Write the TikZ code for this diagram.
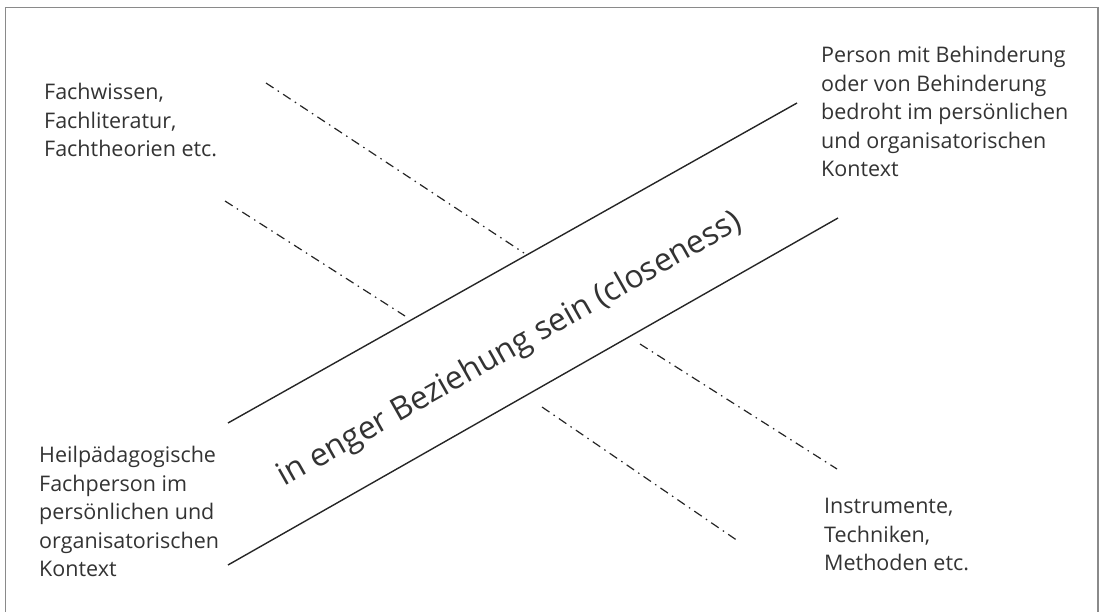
\documentclass[tikz,border=0pt]{standalone}
\usepackage{fontspec}
\setmainfont{Open Sans}
\definecolor{txt}{HTML}{333333}
\definecolor{frame}{HTML}{8A8A8A}
\begin{document}
\begin{tikzpicture}[x=1pt,y=-1pt,
  lbl/.style={anchor=north west,align=left,inner sep=0pt,text=txt,font=\fontsize{21.5}{28.5}\selectfont},
  solidline/.style={line width=1.4pt,black!85},
  dashdot/.style={line width=1.2pt,black!85,dash pattern=on 9pt off 5pt on 1.5pt off 5pt}]
\useasboundingbox (0,0) rectangle (1105,612);
\draw[frame,line width=1.5pt] (5.5,7.5) rectangle (1098,613);
% solid band lines
\coordinate (l1a) at (228,423);
\coordinate (l1b) at (797,103);
\coordinate (l2a) at (228,565);
\coordinate (l2b) at (838,218);
\draw[solidline] (l1a) -- (l1b);
\draw[solidline] (l2a) -- (l2b);
% dash-dot lines
\coordinate (aa) at (266,83);
\coordinate (ab) at (524,253);
\coordinate (ba) at (225,201);
\coordinate (bb) at (405,316);
\coordinate (ca) at (640,344);
\coordinate (cb) at (837,469);
\coordinate (da) at (542,407);
\coordinate (db) at (738,541);
\draw[dashdot] (aa) -- (ab);
\draw[dashdot] (ba) -- (bb);
\draw[dashdot] (ca) -- (cb);
\draw[dashdot] (da) -- (db);
% labels
\node[lbl] (fw) at (44,83) {Fachwissen,\\Fachliteratur,\\Fachtheorien etc.};
\node[lbl] (pb) at (821,46) {Person mit Behinderung\\oder von Behinderung\\bedroht im persönlichen\\und organisatorischen\\Kontext};
\node[lbl] (hp) at (39,446) {Heilpädagogische\\Fachperson im\\persönlichen und\\organisatorischen\\Kontext};
\node[lbl] (im) at (824,498) {Instrumente,\\Techniken,\\Methoden etc.};
\node[text=txt,inner sep=0pt,rotate=29.5,font=\fontsize{32}{36}\selectfont] (cl) at (510,350) {in enger Beziehung sein (closeness)};
\end{tikzpicture}
\end{document}
